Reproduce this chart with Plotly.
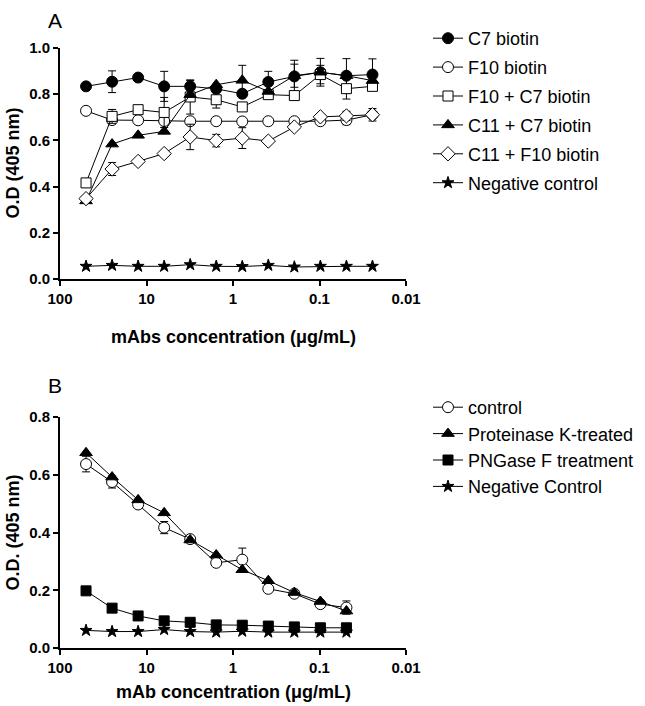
import plotly.graph_objects as go

# ---------------- data ----------------
conc_a = [50, 25, 12.5, 6.25, 3.125, 1.5625, 0.78125, 0.390625, 0.1953125, 0.09765625, 0.048828125, 0.0244140625]
conc_b = [50, 25, 12.5, 6.25, 3.125, 1.5625, 0.78125, 0.390625, 0.1953125, 0.09765625, 0.048828125]

names_a = ["C7 biotin", "F10 biotin", "F10 + C7 biotin", "C11 + C7 biotin", "C11 + F10 biotin", "Negative control"]
c7_biotin = [0.834, 0.854, 0.872, 0.834, 0.834, 0.823, 0.802, 0.853, 0.877, 0.895, 0.880, 0.885]
c7_biotin_err = [0, 0.047, 0, 0.065, 0.025, 0, 0, 0.046, 0.07, 0.06, 0.074, 0.068]
f10_biotin = [0.728, 0.688, 0.687, 0.684, 0.683, 0.683, 0.682, 0.683, 0.683, 0.683, 0.688, 0.711]
f10_biotin_err = [0, 0, 0, 0, 0, 0, 0, 0, 0, 0, 0.02, 0]
f10_c7 = [0.416, 0.704, 0.733, 0.721, 0.788, 0.776, 0.745, 0.798, 0.794, 0.885, 0.824, 0.834]
f10_c7_err = [0, 0.03, 0, 0.065, 0.074, 0.036, 0, 0, 0, 0.04, 0.045, 0]
c11_c7 = [0.338, 0.584, 0.622, 0.639, 0.798, 0.841, 0.860, 0.812, 0.880, 0.895, 0.880, 0.859]
c11_c7_err = [0, 0, 0, 0, 0, 0, 0.065, 0, 0.05, 0, 0, 0]
c11_f10 = [0.348, 0.476, 0.509, 0.543, 0.615, 0.599, 0.610, 0.597, 0.658, 0.702, 0.706, 0.711]
c11_f10_err = [0, 0.028, 0, 0, 0.055, 0.027, 0.045, 0, 0, 0, 0.02, 0.027]
neg_a = [0.055, 0.059, 0.055, 0.055, 0.062, 0.055, 0.054, 0.059, 0.052, 0.055, 0.055, 0.055]

names_b = ["control", "Proteinase K-treated", "PNGase F treatment", "Negative Control"]
control_b = [0.637, 0.575, 0.497, 0.417, 0.377, 0.295, 0.306, 0.205, 0.188, 0.152, 0.140]
control_b_err = [0.027, 0.021, 0, 0.021, 0, 0, 0.04, 0, 0, 0, 0.023]
protk_b = [0.676, 0.592, 0.513, 0.468, 0.374, 0.322, 0.271, 0.233, 0.192, 0.161, 0.128]
pngase_b = [0.198, 0.138, 0.111, 0.094, 0.089, 0.080, 0.079, 0.076, 0.073, 0.070, 0.070]
neg_b = [0.061, 0.057, 0.057, 0.064, 0.057, 0.055, 0.058, 0.055, 0.055, 0.055, 0.055]

x_tickvals = [100, 10, 1, 0.1, 0.01]
x_ticktext = ["100", "10", "1", "0.1", "0.01"]
ya_ticks = [0.0, 0.2, 0.4, 0.6, 0.8, 1.0]
yb_ticks = [0.0, 0.2, 0.4, 0.6, 0.8]

# ---------------- figure ----------------
W, H = 645, 706
FONT = "Liberation Sans, Arial, sans-serif"
fig = go.Figure()


def add(x, y, name, symbol, filled, size, err, xa, ya, legend):
    fig.add_trace(go.Scatter(
        x=x, y=y, name=name, mode="lines+markers",
        xaxis=xa, yaxis=ya, legend=legend, legendgroup=name,
        line=dict(color="black", width=1),
        marker=dict(symbol=symbol, size=size,
                    color="black" if filled else "white",
                    line=dict(color="black", width=1)),
        error_y=dict(type="data", array=err, visible=err is not None,
                     color="black", thickness=1, width=4),
        cliponaxis=False,
    ))


add(conc_a, c7_biotin, names_a[0], "circle", True, 11, c7_biotin_err, "x", "y", "legend")
add(conc_a, f10_biotin, names_a[1], "circle", False, 11, f10_biotin_err, "x", "y", "legend")
add(conc_a, f10_c7, names_a[2], "square", False, 10, f10_c7_err, "x", "y", "legend")
add(conc_a, c11_c7, names_a[3], "triangle-up", True, 11, c11_c7_err, "x", "y", "legend")
add(conc_a, c11_f10, names_a[4], "diamond", False, 11, c11_f10_err, "x", "y", "legend")
add(conc_a, neg_a, names_a[5], "star", True, 9, None, "x", "y", "legend")

add(conc_b, control_b, names_b[0], "circle", False, 11, control_b_err, "x2", "y2", "legend2")
add(conc_b, protk_b, names_b[1], "triangle-up", True, 11, None, "x2", "y2", "legend2")
add(conc_b, pngase_b, names_b[2], "square", True, 10, None, "x2", "y2", "legend2")
add(conc_b, neg_b, names_b[3], "star", True, 9, None, "x2", "y2", "legend2")

xdom = [60 / W, 406 / W]
ya_dom = [1 - 279 / H, 1 - 48 / H]
yb_dom = [1 - 648 / H, 1 - 417 / H]

tickfont = dict(family=FONT, size=15, color="black", weight=700)
xcommon = dict(type="log", range=[2, -2], tickvals=x_tickvals, ticktext=x_ticktext,
               showline=True, linecolor="black", linewidth=2, ticks="outside",
               ticklen=5, tickwidth=2, tickcolor="black", showgrid=False,
               zeroline=False, tickfont=tickfont, domain=xdom, automargin=False)
ycommon = dict(showline=True, linecolor="black", linewidth=2, ticks="outside",
               ticklen=5, tickwidth=2, tickcolor="black", showgrid=False,
               zeroline=False, tickfont=tickfont, tickformat=".1f", automargin=False)

fig.update_layout(
    template="none",
    width=W, height=H, autosize=False,
    margin=dict(l=0, r=0, t=0, b=0, pad=0),
    paper_bgcolor="white", plot_bgcolor="white",
    font=dict(family=FONT, color="black"),
    xaxis=dict(**xcommon, anchor="y"),
    yaxis=dict(**ycommon, range=[0, 1.0], tickvals=ya_ticks, domain=ya_dom, anchor="x"),
    xaxis2=dict(**xcommon, anchor="y2"),
    yaxis2=dict(**ycommon, range=[0, 0.8], tickvals=yb_ticks, domain=yb_dom, anchor="x2"),
    legend=dict(x=428 / W, y=1 - 20 / H, xanchor="left", yanchor="top",
                font=dict(family=FONT, size=18, color="black"),
                tracegroupgap=2.5, bgcolor="rgba(0,0,0,0)", borderwidth=0),
    legend2=dict(x=428 / W, y=1 - 389 / H, xanchor="left", yanchor="top",
                 font=dict(family=FONT, size=18, color="black"),
                 tracegroupgap=0, bgcolor="rgba(0,0,0,0)", borderwidth=0),
    showlegend=True,
)

ann_font_b = dict(family=FONT, size=18, color="black", weight=700)


def label(x, y, text, font, angle=0):
    fig.add_annotation(x=x / W, y=1 - y / H, xref="paper", yref="paper",
                       xanchor="center", yanchor="middle", text=text,
                       textangle=angle, showarrow=False, font=font)


label(12, 163.5, "O.D (405 nm)", ann_font_b, -90)
label(12, 532.5, "O.D. (405 nm)", ann_font_b, -90)
label(233, 337, "mAbs concentration (μg/mL)", ann_font_b)
label(233, 692, "mAb concentration (μg/mL)", ann_font_b)
label(55, 20, "A", dict(family=FONT, size=21, color="black"))
label(55, 385, "B", dict(family=FONT, size=21, color="black"))

fig.write_html("out.html", config={"displayModeBar": False},
               post_script="document.body.style.margin='0';")
